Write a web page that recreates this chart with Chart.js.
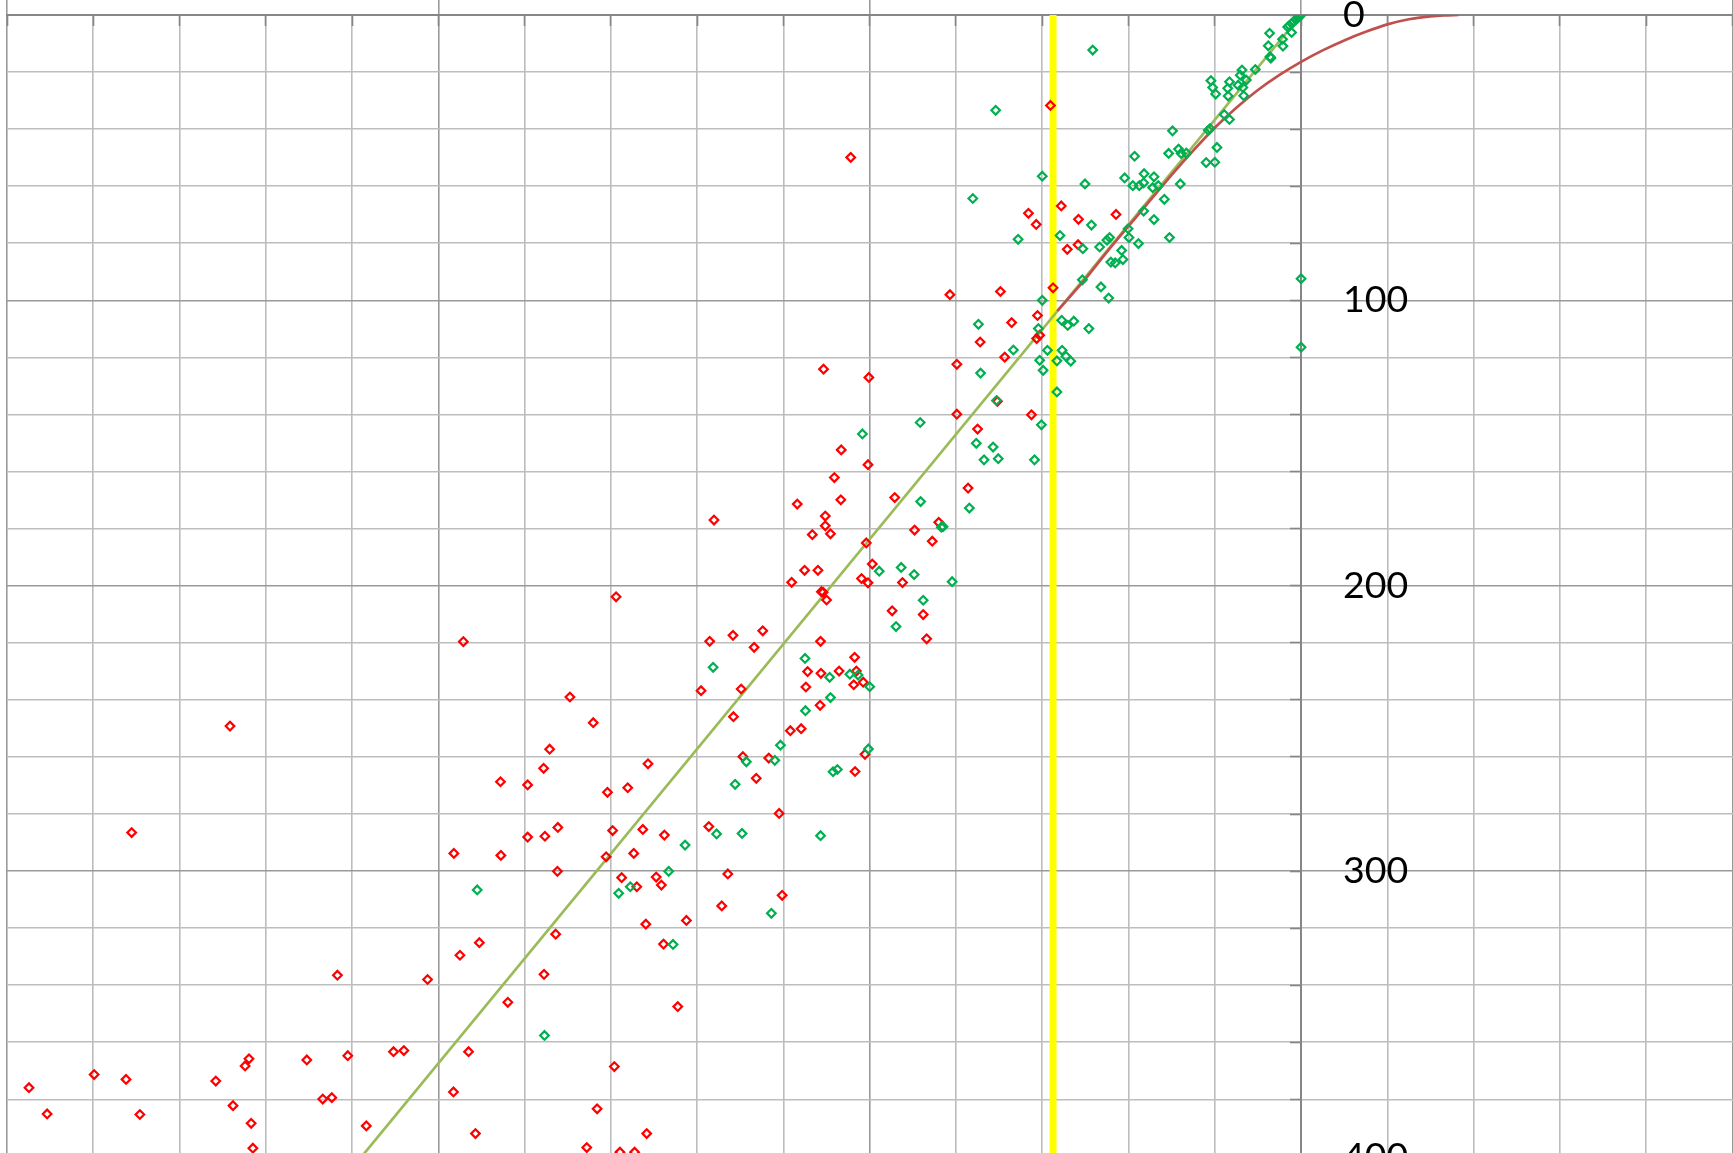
<!DOCTYPE html>
<html>
<head>
<meta charset="utf-8">
<script src="https://cdn.jsdelivr.net/npm/chart.js@4.4.1/dist/chart.umd.min.js"></script>
<style>
html, body { margin: 0; padding: 0; background: #ffffff; width: 1733px; height: 1153px; overflow: hidden; }
#wrap { position: absolute; left: 0; top: 0; width: 1900px; height: 1300px; }
canvas { display: block; }
</style>
</head>
<body>
<div id="wrap"><canvas id="chart" width="1900" height="1300" style="width:1900px;height:1300px"></canvas></div>
<script>
// ---- axis ranges and tick labels ----
const xRange = [-300, 120];
const yRange = [0, 420];
const gridStep = 20;
const yLabelValues = [0, 100, 200, 300, 400];

// ---- red series (x, y) ----
const redPoints = [
  [-104.4,49.9],[-63.2,69.5],[-61.4,73.4],[-81.4,98.0],[-69.7,96.9],[-67.1,107.8],[-61.1,105.3],[-61.3,113.4],
  [-74.4,114.6],[-68.7,119.9],[-79.8,122.4],[-110.7,124.1],[-100.2,127.0],[-79.8,139.9],[-62.5,140.1],[-75.0,145.1],
  [-106.6,152.4],[-100.4,157.6],[-108.2,162.1],[-106.7,169.9],[-77.2,165.8],[-94.2,169.1],[-116.8,171.4],[-110.3,175.6],
  [-110.3,179.0],[-109.1,181.8],[-113.3,182.1],[-136.1,177.0],[-84.0,177.8],[-89.6,180.5],[-85.5,184.4],[-100.8,185.0],
  [-99.4,192.4],[-115.1,194.6],[-112.0,194.6],[-118.1,198.8],[-101.9,197.5],[-100.4,199.0],[-92.4,198.9],[-111.2,202.1],
  [-110.8,202.3],[-110.0,205.0],[-158.8,203.9],[-94.8,208.8],[-87.6,210.1],[-86.8,218.6],[-137.1,219.5],[-131.7,217.4],
  [-124.8,215.8],[-126.8,221.6],[-111.4,219.5],[-103.5,225.1],[-70.4,135.4],
  [-58.1,31.7],[-55.6,66.9],[-51.6,71.6],[-42.9,69.9],[-54.2,82.1],[-51.7,80.5],[-57.5,95.6],[-60.6,112.2],
  [-194.2,219.6],[-114.4,230.1],[-111.3,230.7],[-107.1,229.9],[-103.1,229.9],[-114.8,235.5],[-103.7,234.7],[-101.5,233.8],
  [-111.5,241.9],[-118.4,250.8],[-115.9,250.1],[-139.1,236.8],[-129.8,236.2],[-131.6,245.9],[-169.5,239.0],[-164.1,248.0],
  [-174.2,257.3],[-175.6,264.0],[-185.6,268.7],[-179.3,269.8],[-151.4,262.4],[-160.8,272.4],[-156.1,270.8],[-129.4,259.9],
  [-123.4,260.4],[-126.3,267.5],[-101.1,259.1],[-103.4,265.1],[-121.0,279.8],[-137.3,284.4],[-147.6,287.4],[-152.6,285.4],
  [-159.6,285.8],[-172.3,284.7],[-175.3,287.8],[-179.3,288.1],[-196.4,293.8],[-185.5,294.5],[-161.1,295.0],[-154.7,293.8],
  [-172.4,300.1],[-157.5,302.3],[-149.5,302.1],[-148.3,304.9],[-154.0,305.5],[-132.9,301.0],[-120.3,308.5],[-134.3,312.2],
  [-151.9,318.6],[-142.5,317.3],[-147.8,325.6],[-172.8,322.1],[-190.5,325.1],[-195.0,329.5],
  [-248.3,249.2],[-271.1,286.5],[-223.4,336.5],[-202.5,338.0],[-294.9,375.9],[-290.7,385.1],[-279.8,371.3],[-272.4,373.0],
  [-269.2,385.3],[-251.6,373.6],[-244.8,368.3],[-243.9,365.8],[-247.6,382.2],[-243.4,388.4],[-243.0,397.1],[-230.5,366.2],
  [-226.8,379.9],[-224.7,379.4],[-221.0,364.7],[-210.4,363.3],[-208.0,362.9],[-216.7,389.3],[-196.5,377.4],[-193.0,363.3],
  [-191.4,392.0],
  [-175.5,336.2],[-183.9,346.0],[-144.5,347.5],[-159.2,368.5],[-163.2,383.3],[-151.7,392.0],[-165.6,396.9],[-157.9,398.5],
  [-154.5,398.5]
];

// ---- green series (x, y) ----
const greenPoints = [
  [-70.8,33.4],[-76.1,64.3],[-65.6,78.6],[-74.8,108.4],[-66.7,117.4],[-74.3,125.5],[-70.6,135.1],[-88.3,142.8],
  [-101.7,146.8],[-75.3,150.1],[-71.4,151.4],[-73.5,155.9],[-70.2,155.5],[-61.8,155.9],[-88.2,170.5],[-76.9,172.8],
  [-83.4,179.5],[-83.0,179.3],[-97.8,194.9],[-92.7,193.6],[-89.7,196.1],[-80.9,198.6],[-87.6,205.1],[-93.9,214.3],
  [-115.0,225.5],
  [-48.3,12.3],[0,92.4],[0,116.4],
  [0,0],[-0.4,0.5],[-0.8,1.1],[-1.2,1.6],[-1.7,2.3],[-2.2,3.0],[-2.7,3.7],[-3.1,4.2],
  [-2.2,6.1],[-7.3,6.4],[-4.3,8.5],[-4.2,10.9],[-7.6,10.8],[-7.2,14.6],[-7.0,15.1],[-10.6,19.1],
  [-13.7,19.3],[-14.1,21.1],[-12.7,22.8],[-14.6,24.6],[-13.5,25.4],[-13.3,28.3],[-16.6,23.4],[-17.0,25.7],
  [-16.9,28.4],[-20.9,23.0],[-20.5,25.4],[-19.8,27.7],[-17.8,34.9],[-16.6,36.6],[-21.5,40.4],[-21.1,39.8],
  [-29.8,40.6],[-19.5,46.4],[-22.0,51.7],[-20.0,51.6],[-30.7,48.5],[-28.4,47.0],[-27.8,48.5],[-26.6,48.4],
  [-28.0,59.2],[-31.7,64.6],[-30.5,78.0],[-34.1,71.7],[-38.6,49.5],[-40.9,57.1],[-36.4,55.6],[-34.1,56.7],
  [-39.0,59.8],[-37.5,59.8],[-36.5,58.8],[-34.4,60.5],[-33.1,59.8],[-36.5,68.7],[-40.1,74.9],[-39.9,78.0],
  [-44.4,78.0],[-45.0,78.9],[-46.7,81.3],[-37.7,80.1],[-41.6,82.5],[-44.1,86.6],[-43.1,86.9],[-41.3,85.7],
  [-50.6,81.9],[-48.6,73.6],[-50.1,59.2],[-60.0,56.5],[-55.9,77.3],[-50.7,92.8],[-46.4,95.3],[-44.6,99.2],
  [-60.0,100.0],[-55.5,107.0],[-54.1,108.8],[-52.7,107.3],[-49.2,109.9],[-60.9,109.9],
  [-58.8,117.5],[-55.4,117.5],[-54.5,119.6],[-53.4,121.3],[-56.6,121.2],[-60.6,121.0],[-59.8,124.5],[-56.6,132.1],
  [-60.2,143.6],
  [-136.3,228.6],[-109.3,232.1],[-104.6,231.0],[-102.7,231.3],[-100.0,235.4],[-109.1,239.2],[-114.9,243.8],[-120.7,255.9],
  [-128.6,261.7],[-122.0,261.2],[-100.3,257.2],[-108.5,265.2],[-107.5,264.4],[-131.2,269.6],[-135.5,287.0],[-129.6,286.8],
  [-142.8,290.9],[-111.4,287.6],[-146.6,300.1],[-158.2,307.8],[-155.5,305.5],[-122.8,314.8],[-145.6,325.7],[-191.0,306.6],
  [-175.4,357.6]
];

// ---- trend curves ----
const redCurveX = [-56.5, -50, -45, -40, -35, -30, -25, -20, -15, -10, -5, 0, 5, 10, 15, 20, 25, 30, 33, 36.5];
const redCurveY = [103.7, 92.5, 83, 74, 65, 56, 47.5, 39.5, 32.5, 26.3, 21, 16.4, 12.4, 8.9, 5.9, 3.3, 1.5, 0.5, 0.15, 0];
const greenLineX = [-230, 0];
const greenLineY = [422.5, 0];
const yellowLineX = [-57.5, -57.5];
const yellowLineY = [0, 420];

// ---- build ----
const pairs = arr => arr.map(p => ({ x: p[0], y: p[1] }));
const zip = (xs, ys) => xs.map((x, i) => ({ x: x, y: ys[i] }));

const MAJOR = '#9a9a9a';
const MINOR = '#bdbdbd';
const AXIS = '#868686';
const isMajor = ctx => ctx.tick && Math.abs(ctx.tick.value % 100) < 1e-6;

new Chart(document.getElementById('chart'), {
  type: 'scatter',
  data: {
    datasets: [
      {
        label: 'green',
        data: pairs(greenPoints),
        order: 0,
        pointStyle: 'rectRot',
        pointRadius: 4.3,
        pointBorderWidth: 2.2,
        pointBorderColor: '#00b050',
        pointBackgroundColor: 'rgba(0,0,0,0)',
        showLine: false
      },
      {
        label: 'red',
        data: pairs(redPoints),
        order: 1,
        pointStyle: 'rectRot',
        pointRadius: 4.3,
        pointBorderWidth: 2.2,
        pointBorderColor: '#ff0000',
        pointBackgroundColor: 'rgba(0,0,0,0)',
        showLine: false
      },
      {
        label: 'red curve',
        data: zip(redCurveX, redCurveY),
        order: 2,
        showLine: true,
        borderColor: '#c0504d',
        borderWidth: 2.7,
        pointRadius: 0,
        cubicInterpolationMode: 'monotone',
        fill: false
      },
      {
        label: 'green line',
        data: zip(greenLineX, greenLineY),
        order: 3,
        showLine: true,
        borderColor: '#9bbb59',
        borderWidth: 2.7,
        pointRadius: 0,
        fill: false
      },
      {
        label: 'yellow',
        data: zip(yellowLineX, yellowLineY),
        order: 4,
        showLine: true,
        borderColor: '#ffff00',
        borderWidth: 7,
        pointRadius: 0,
        fill: false
      }
    ]
  },
  options: {
    responsive: false,
    devicePixelRatio: 1,
    animation: false,
    events: [],
    layout: { padding: { left: 7, top: 0, right: 81.3, bottom: 86.5 } },
    plugins: { legend: { display: false }, title: { display: false }, tooltip: { enabled: false } },
    scales: {
      x: {
        type: 'linear',
        position: 'top',
        min: xRange[0],
        max: xRange[1],
        ticks: { display: false, stepSize: gridStep },
        grid: {
          color: ctx => isMajor(ctx) ? MAJOR : MINOR,
          lineWidth: 1.6,
          drawTicks: true,
          tickLength: 15,
          tickWidth: 1.6,
          tickColor: ctx => isMajor(ctx) ? MAJOR : 'rgba(0,0,0,0)'
        },
        border: { display: false }
      },
      x2: {
        type: 'linear',
        position: { y: 0 },
        min: xRange[0],
        max: xRange[1],
        ticks: { display: false, stepSize: gridStep },
        grid: { drawOnChartArea: false, drawTicks: true, tickLength: 10, tickWidth: 1.6, tickColor: AXIS },
        border: { display: true, color: AXIS, width: 2 }
      },
      y: {
        type: 'linear',
        position: 'left',
        reverse: true,
        min: yRange[0],
        max: yRange[1],
        ticks: {
          stepSize: gridStep,
          autoSkip: false,
          mirror: true,
          padding: 1336,
          color: '#000000',
          font: { family: 'Lato', size: 37.5 },
          callback: v => yLabelValues.includes(v) ? String(v) : ''
        },
        grid: {
          color: ctx => isMajor(ctx) ? MAJOR : MINOR,
          lineWidth: 1.6,
          drawTicks: false
        },
        border: { display: false },
        afterFit: s => { s.width = 0; s.paddingTop = 0; s.paddingBottom = 0; }
      },
      y2: {
        type: 'linear',
        position: { x: 0 },
        reverse: true,
        min: yRange[0],
        max: yRange[1],
        ticks: { display: false, stepSize: gridStep },
        grid: { drawOnChartArea: false, drawTicks: true, tickLength: 10, tickWidth: 1.6, tickColor: AXIS },
        border: { display: true, color: AXIS, width: 2 }
      }
    }
  }
});
</script>
</body>
</html>
